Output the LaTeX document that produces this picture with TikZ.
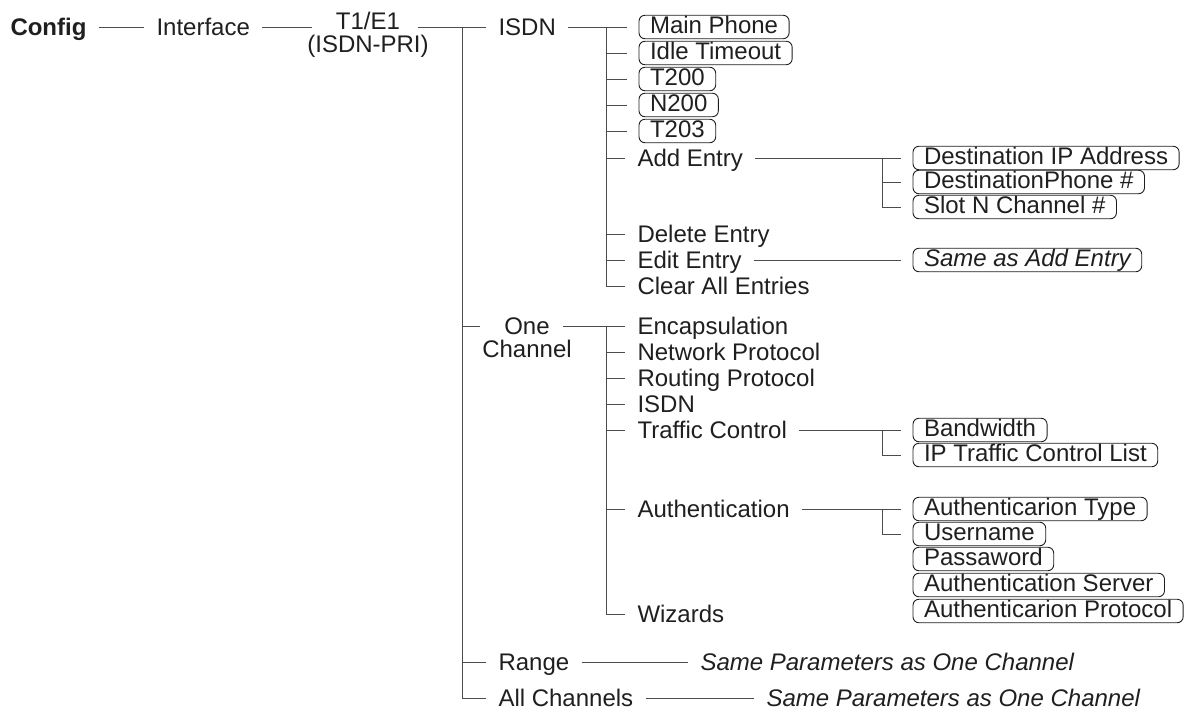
\documentclass[tikz,border=0pt]{standalone}
\usepackage{fontspec}
\setmainfont{Liberation Sans}
\usetikzlibrary{positioning}
\newcommand{\bigfont}{\fontsize{24}{23}\selectfont}
\colorlet{ink}{black!88}
\colorlet{wire}{black!70}
\tikzset{txt/.style={anchor=west,font=\bigfont,text=ink,inner xsep=12pt,inner ysep=0pt,text height=17pt,text depth=0pt}}
\tikzset{opt/.style={anchor=west,font=\bigfont,text=ink,draw=ink,line width=0.9pt,rounded corners=6pt,inner xsep=11pt,inner ysep=0pt,outer xsep=12pt,text height=18.5pt,text depth=5pt}}
\tikzset{two/.style={anchor=north,font=\bigfont,text=ink,align=center,inner sep=0pt}}

\begin{document}
\begin{tikzpicture}[x=1pt,y=-1pt,line width=1pt,draw=wire]
  \useasboundingbox (0,0) rectangle (1188,716);
  % top row
  \node[txt] (cfg) at (-2,27) {\bfseries Config};
  \node[txt] (iface) at (144,27) {Interface};
  \node[two] (t1) at (368,12) {T1/E1\\(ISDN-PRI)};
  \coordinate (t1L) at (312,27);
  \coordinate (t1R) at (418,27);
  \coordinate (b1) at (462,27);
  \node[txt] (isdn) at (486,27) {ISDN};
  \draw (cfg) -- (iface);
  \draw (iface) -- (t1L);
  \draw (t1R) -- (isdn);

  % ISDN branch
  \coordinate (b2) at (606,27);
  \node[opt] (mp) at (627,27) {Main Phone};
  \node[opt] (idle) at (627,53) {Idle Timeout};
  \node[opt] (t200) at (627,79) {T200};
  \node[opt] (n200) at (627,105) {N200};
  \node[opt] (t203) at (627,131) {T203};
  \node[txt] (add) at (625,158) {Add Entry};
  \node[txt] (del) at (625,234) {Delete Entry};
  \node[txt] (edt) at (625,260) {Edit Entry};
  \node[txt] (clr) at (625,286) {Clear All Entries};
  \draw (isdn) -- (mp);
  \draw (b2) -- (b2 |- clr) -- (clr);
  \foreach \n in {idle,t200,n200,t203,add,del,edt}
    \draw (b2 |- \n) -- (\n);

  % add / edit entry
  \coordinate (b3) at (882,158);
  \node[opt] (dip) at (901,158) {Destination IP Address};
  \node[opt] (dph) at (901,182) {DestinationPhone \#};
  \node[opt] (slot) at (901,207) {Slot N Channel \#};
  \node[opt] (sae) at (901,260) {\itshape Same as Add Entry};
  \draw (add) -- (dip);
  \draw (b3) -- (b3 |- slot) -- (slot);
  \draw (b3 |- dph) -- (dph);
  \draw (edt) -- (sae);

  % one channel branch
  \node[two] (one) at (527,317) {One\\Channel};
  \coordinate (oneL) at (480,326);
  \coordinate (oneR) at (563,326);
  \coordinate (b4) at (606,326);
  \node[txt] (enc) at (625,326) {Encapsulation};
  \node[txt] (net) at (625,352) {Network Protocol};
  \node[txt] (rout) at (625,378) {Routing Protocol};
  \node[txt] (isdn2) at (625,404) {ISDN};
  \node[txt] (trf) at (625,430) {Traffic Control};
  \node[txt] (auth) at (625,509) {Authentication};
  \node[txt] (wiz) at (625,614) {Wizards};
  \draw (b1 |- oneL) -- (oneL);
  \draw (oneR) -- (enc);
  \draw (b4) -- (b4 |- wiz) -- (wiz);
  \foreach \n in {net,rout,isdn2,trf,auth}
    \draw (b4 |- \n) -- (\n);

  % traffic control
  \coordinate (b5) at (882,430);
  \node[opt] (bw) at (901,430) {Bandwidth};
  \node[opt] (ipt) at (901,455) {IP Traffic Control List};
  \draw (trf) -- (bw);
  \draw (b5) -- (b5 |- ipt) -- (ipt);

  % authentication
  \coordinate (b6) at (882,509);
  \node[opt] (aty) at (901,509) {Authenticarion Type};
  \node[opt] (usr) at (901,534) {Username};
  \node[opt] (pwd) at (901,559) {Passaword};
  \node[opt] (asv) at (901,585) {Authentication Server};
  \node[opt] (apr) at (901,611) {Authenticarion Protocol};
  \draw (auth) -- (aty);
  \draw (b6) -- (b6 |- usr) -- (usr);

  % range / all channels
  \node[txt] (rng) at (486,662) {Range};
  \node[txt] (sp1) at (688,662) {\itshape Same Parameters as One Channel};
  \node[txt] (all) at (486,698) {All Channels};
  \node[txt] (sp2) at (754,698) {\itshape Same Parameters as One Channel};
  \draw (b1) -- (b1 |- all) -- (all);
  \draw (b1 |- isdn) -- (isdn);
  \draw (b1 |- rng) -- (rng);
  \draw (rng) -- (sp1);
  \draw (all) -- (sp2);
\end{tikzpicture}
\end{document}
